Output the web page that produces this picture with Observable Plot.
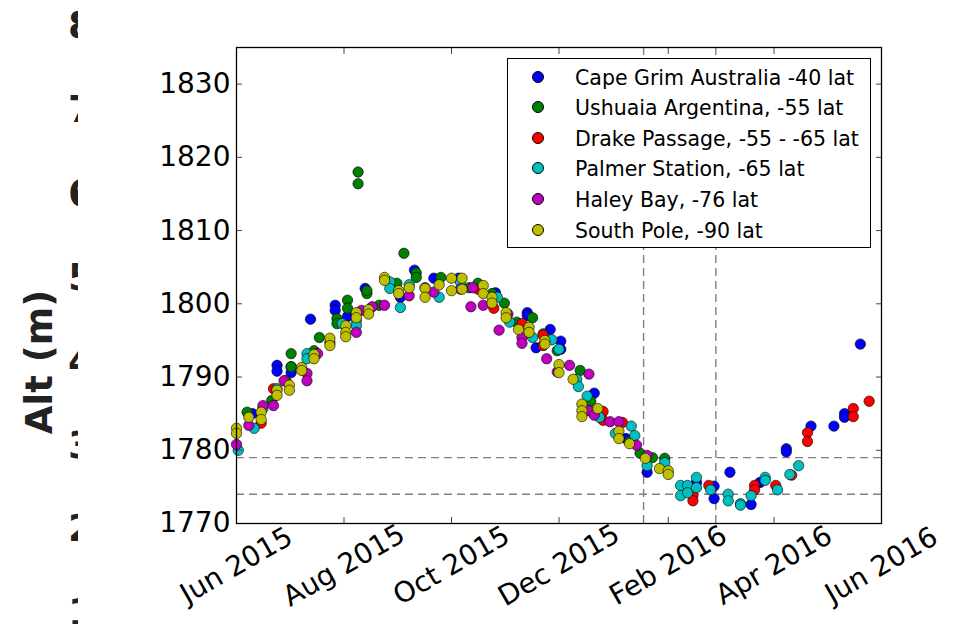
<!DOCTYPE html>
<html><head><meta charset="utf-8">
<script src="https://cdn.jsdelivr.net/npm/d3@7"></script>
<script src="https://cdn.jsdelivr.net/npm/@observablehq/plot@0.6"></script>
<style>
body{margin:0;background:#fff;}
#wrap{position:relative;width:955px;height:624px;overflow:hidden;font-family:"DejaVu Sans",sans-serif;background:#fff;}
#wrap svg{position:absolute;left:0;top:0;}
#ghostDigits{position:absolute;left:0;top:0;width:78px;height:624px;overflow:hidden;}
.gd{position:absolute;left:68px;font:bold 38px/1 "DejaVu Sans",sans-serif;color:#222;}
#ghostLabel{position:absolute;font:bold 37px/1 "DejaVu Sans",sans-serif;color:#222;white-space:nowrap;transform:translate(-50%,-50%) rotate(-90deg);}
#legend{position:absolute;left:507px;top:58px;width:362px;height:188px;border:1.3px solid #000;background:#fff;}
.lg{position:absolute;left:67px;font:20.5px/1 "DejaVu Sans",sans-serif;color:#000;white-space:nowrap;transform:translateY(-50%);}
.lm{position:absolute;left:23.5px;width:10px;height:10px;border-radius:50%;border:0.6px solid #000;transform:translateY(-50%);}
</style></head><body><div id="wrap"></div>
<script>
// ---- data ----
const seriesNames = ["Cape Grim Australia -40 lat","Ushuaia Argentina, -55 lat","Drake Passage, -55 - -65 lat","Palmer Station, -65 lat","Haley Bay, -76 lat","South Pole, -90 lat"];
const seriesColors = ["#0000ff","#008000","#ff0000","#00bfbf","#bf00bf","#bfbf00"];

const capeGrim = [["2015-06-10",1785.0],["2015-06-24",1791.6],["2015-06-24",1790.8],["2015-07-02",1791.4],["2015-07-02",1790.6],["2015-07-13",1797.9],["2015-07-27",1799.8],["2015-07-27",1799.1],["2015-08-03",1798.3],["2015-08-13",1802.1],["2015-09-02",1800.9],["2015-09-10",1804.6],["2015-09-21",1803.5],["2015-10-05",1803.5],["2015-10-26",1801.5],["2015-11-13",1798.8],["2015-11-13",1798.4],["2015-11-18",1794.0],["2015-11-26",1796.5],["2015-12-02",1794.9],["2015-12-02",1793.8],["2015-12-21",1787.8],["2016-01-08",1781.6],["2016-01-20",1777.0],["2016-02-17",1775.6],["2016-02-27",1775.1],["2016-02-27",1773.4],["2016-03-07",1777.0],["2016-03-19",1772.6],["2016-03-24",1775.6],["2016-04-08",1780.2],["2016-04-08",1779.8],["2016-04-22",1783.3],["2016-05-05",1783.3],["2016-05-11",1785.0],["2016-05-11",1784.5],["2016-05-20",1794.5]];
const ushuaia = [["2015-06-07",1785.2],["2015-06-21",1786.8],["2015-06-29",1789.5],["2015-07-02",1793.2],["2015-07-02",1791.4],["2015-07-15",1793.6],["2015-07-18",1795.4],["2015-07-28",1798.0],["2015-07-28",1797.3],["2015-08-03",1800.5],["2015-08-03",1799.4],["2015-08-09",1818.0],["2015-08-09",1816.4],["2015-08-14",1801.4],["2015-08-14",1801.8],["2015-08-21",1799.8],["2015-08-31",1802.8],["2015-09-04",1806.9],["2015-09-11",1804.2],["2015-09-11",1803.6],["2015-09-25",1803.6],["2015-10-11",1802.2],["2015-10-16",1802.8],["2015-10-24",1801.4],["2015-10-31",1800.1],["2015-11-07",1797.5],["2015-11-16",1798.1],["2015-11-22",1795.9],["2015-11-30",1793.6],["2015-12-13",1790.9],["2015-12-19",1786.7],["2016-01-10",1781.2],["2016-01-16",1779.6],["2016-01-23",1779.0],["2016-01-30",1778.9]];
const drake = [["2015-06-15",1783.7],["2015-06-22",1788.4],["2015-10-16",1802.0],["2015-10-25",1799.4],["2015-11-10",1797.3],["2015-11-22",1795.7],["2015-11-22",1794.3],["2015-12-26",1785.3],["2015-12-26",1784.1],["2016-01-06",1783.8],["2016-02-15",1773.8],["2016-02-15",1773.1],["2016-02-24",1775.2],["2016-03-21",1775.2],["2016-03-21",1774.6],["2016-04-02",1775.2],["2016-04-11",1776.6],["2016-04-20",1782.4],["2016-04-20",1781.2],["2016-05-16",1785.7],["2016-05-16",1784.6],["2016-05-25",1786.7]];
const palmer = [["2015-06-02",1780.0],["2015-06-11",1783.0],["2015-06-16",1785.7],["2015-06-24",1788.4],["2015-07-11",1793.2],["2015-07-11",1792.5],["2015-07-31",1797.3],["2015-08-08",1797.7],["2015-08-08",1797.0],["2015-08-27",1803.0],["2015-08-27",1802.1],["2015-09-02",1799.5],["2015-09-07",1802.6],["2015-09-24",1800.9],["2015-10-06",1803.0],["2015-10-27",1800.9],["2015-11-03",1797.5],["2015-11-16",1795.4],["2015-11-27",1795.1],["2015-12-01",1793.8],["2015-12-11",1789.7],["2015-12-12",1788.7],["2015-12-17",1787.4],["2015-12-24",1784.5],["2016-01-02",1782.3],["2016-01-11",1783.3],["2016-01-13",1782.0],["2016-01-20",1777.9],["2016-01-30",1778.3],["2016-02-08",1775.2],["2016-02-08",1773.8],["2016-02-12",1775.2],["2016-02-12",1774.2],["2016-02-17",1776.3],["2016-02-17",1774.9],["2016-02-25",1774.6],["2016-03-06",1774.0],["2016-03-06",1773.1],["2016-03-13",1772.7],["2016-03-13",1772.5],["2016-03-19",1773.8],["2016-03-27",1776.3],["2016-03-27",1775.9],["2016-04-03",1774.6],["2016-04-10",1776.7],["2016-04-15",1777.9]];
const haleyBay = [["2015-06-01",1780.8],["2015-06-08",1783.4],["2015-06-16",1786.1],["2015-06-22",1786.1],["2015-06-28",1789.5],["2015-07-11",1790.5],["2015-07-11",1789.5],["2015-07-17",1793.2],["2015-07-24",1794.7],["2015-08-08",1796.1],["2015-08-11",1799.1],["2015-08-17",1799.6],["2015-08-24",1799.8],["2015-09-07",1801.1],["2015-09-16",1802.2],["2015-09-21",1801.6],["2015-10-06",1802.0],["2015-10-12",1799.6],["2015-10-13",1802.2],["2015-10-19",1799.8],["2015-10-28",1796.4],["2015-11-02",1798.6],["2015-11-10",1795.4],["2015-11-10",1794.6],["2015-11-24",1792.5],["2015-11-30",1790.7],["2015-12-07",1791.6],["2015-12-18",1790.4],["2015-12-18",1785.4],["2015-12-21",1784.8],["2015-12-30",1783.9],["2016-01-04",1783.9],["2016-01-14",1780.7],["2016-01-20",1779.3]];
const southPole = [["2015-06-01",1783.0],["2015-06-01",1782.3],["2015-06-08",1784.5],["2015-06-15",1785.2],["2015-06-15",1784.2],["2015-06-24",1788.2],["2015-06-24",1787.5],["2015-07-01",1788.9],["2015-07-01",1788.2],["2015-07-08",1791.3],["2015-07-08",1790.9],["2015-07-15",1793.1],["2015-07-15",1792.5],["2015-07-24",1795.3],["2015-07-24",1794.3],["2015-08-02",1797.0],["2015-08-02",1796.1],["2015-08-02",1795.5],["2015-08-08",1798.8],["2015-08-08",1798.1],["2015-08-15",1799.2],["2015-08-15",1798.6],["2015-08-24",1803.6],["2015-08-24",1803.2],["2015-09-01",1801.8],["2015-09-01",1801.4],["2015-09-07",1802.2],["2015-09-16",1802.1],["2015-09-16",1800.9],["2015-09-24",1802.6],["2015-10-01",1803.5],["2015-10-01",1801.8],["2015-10-07",1803.5],["2015-10-07",1802.0],["2015-10-19",1802.5],["2015-10-19",1801.4],["2015-10-24",1800.9],["2015-10-24",1800.1],["2015-11-01",1798.8],["2015-11-01",1798.1],["2015-11-08",1796.5],["2015-11-14",1796.8],["2015-11-14",1796.1],["2015-11-23",1795.0],["2015-11-23",1794.5],["2015-12-01",1791.7],["2015-12-01",1790.6],["2015-12-09",1789.7],["2015-12-14",1786.3],["2015-12-14",1785.4],["2015-12-14",1784.6],["2015-12-23",1785.7],["2016-01-04",1782.6],["2016-01-04",1781.6],["2016-01-10",1780.9],["2016-01-19",1778.9],["2016-01-27",1777.5],["2016-02-01",1777.2],["2016-02-01",1776.7]];

const xTickDates = ["2015-06-01","2015-08-01","2015-10-01","2015-12-01","2016-02-01","2016-04-01","2016-06-01"];
const xTickLabels = ["Jun 2015","Aug 2015","Oct 2015","Dec 2015","Feb 2016","Apr 2016","Jun 2016"];
const yTicks = [1770,1780,1790,1800,1810,1820,1830];
const hLines = [1779,1774];
const vLines = ["2016-01-18","2016-02-28"];
const ghostTicks = ["8","7","6","5","4","3","2","1"];
const ghostLabel = "Alt (m)";

// ---- chart ----
const parse = d3.utcParse("%Y-%m-%d");
const seriesData = [capeGrim, ushuaia, drake, palmer, haleyBay, southPole];
const xTicks = xTickDates.map(parse);
const labelOf = new Map(xTicks.map((d,i)=>[+d, xTickLabels[i]]));
const dash = {stroke:"#808080", strokeWidth:1.4, strokeDasharray:"8,5"};

const chart = Plot.plot({
  width: 955, height: 624,
  marginLeft: 236, marginRight: 74, marginTop: 47, marginBottom: 101,
  style: {fontFamily: "DejaVu Sans", fontSize: "28px", background: "transparent", color: "#000"},
  x: {type: "utc", domain: [parse("2015-06-01"), parse("2016-06-01")]},
  y: {domain: [1770, 1835]},
  marks: [
    Plot.ruleY(hLines, dash),
    Plot.ruleX(vLines.map(parse), dash),
    ...seriesData.map((s,i) => Plot.dot(s, {x: d=>parse(d[0]), y: d=>d[1], r: 5.2, fill: seriesColors[i], fillOpacity: 1, stroke: "#000", strokeWidth: 0.6})),
    Plot.axisX({anchor:"bottom", ticks: xTicks, tickSize: -6, tickFormat: ()=>"", label: null, stroke:"#444"}),
    Plot.axisX({anchor:"top", ticks: xTicks, tickSize: -6, tickFormat: ()=>"", label: null, stroke:"#444"}),
    Plot.axisY({anchor:"left", ticks: yTicks, tickSize: -6, tickFormat: ()=>"", label: null, stroke:"#444"}),
    Plot.axisY({anchor:"right", ticks: yTicks, tickSize: -6, tickFormat: ()=>"", label: null, stroke:"#444"}),
    Plot.axisY({anchor:"left", ticks: yTicks, tickSize: 0, tickPadding: 6, label: null, fontSize: 28, tickFormat: d=>String(d)}),
    Plot.text(xTicks, {x: d=>d, frameAnchor: "bottom", dy: 42, rotate: -30, text: d=>labelOf.get(+d), textAnchor: "middle", lineAnchor: "middle", fontSize: 28, fill: "#000"}),
    Plot.frame({stroke: "#000", strokeWidth: 1.3})
  ]
});

const wrap = document.getElementById("wrap");
wrap.appendChild(chart);

// ghost overlapping labels
const gd = document.createElement("div");
gd.id = "ghostDigits";
ghostTicks.forEach((t,i) => {
  const s = document.createElement("span");
  s.className = "gd";
  s.textContent = t;
  s.style.top = (24 + i*83.9 - 18) + "px";
  gd.appendChild(s);
});
wrap.appendChild(gd);
const gl = document.createElement("div");
gl.id = "ghostLabel";
gl.textContent = ghostLabel;
gl.style.left = "39px";
gl.style.top = "362px";
wrap.appendChild(gl);

// legend
const lg = document.createElement("div");
lg.id = "legend";
seriesNames.forEach((n,i) => {
  const y = 17.5 + i*30.6;
  const m = document.createElement("div");
  m.className = "lm";
  m.style.top = y + "px";
  m.style.background = seriesColors[i];
  lg.appendChild(m);
  const t = document.createElement("div");
  t.className = "lg";
  t.style.top = (y + 1) + "px";
  t.textContent = n;
  lg.appendChild(t);
});
wrap.appendChild(lg);
</script></body></html>
